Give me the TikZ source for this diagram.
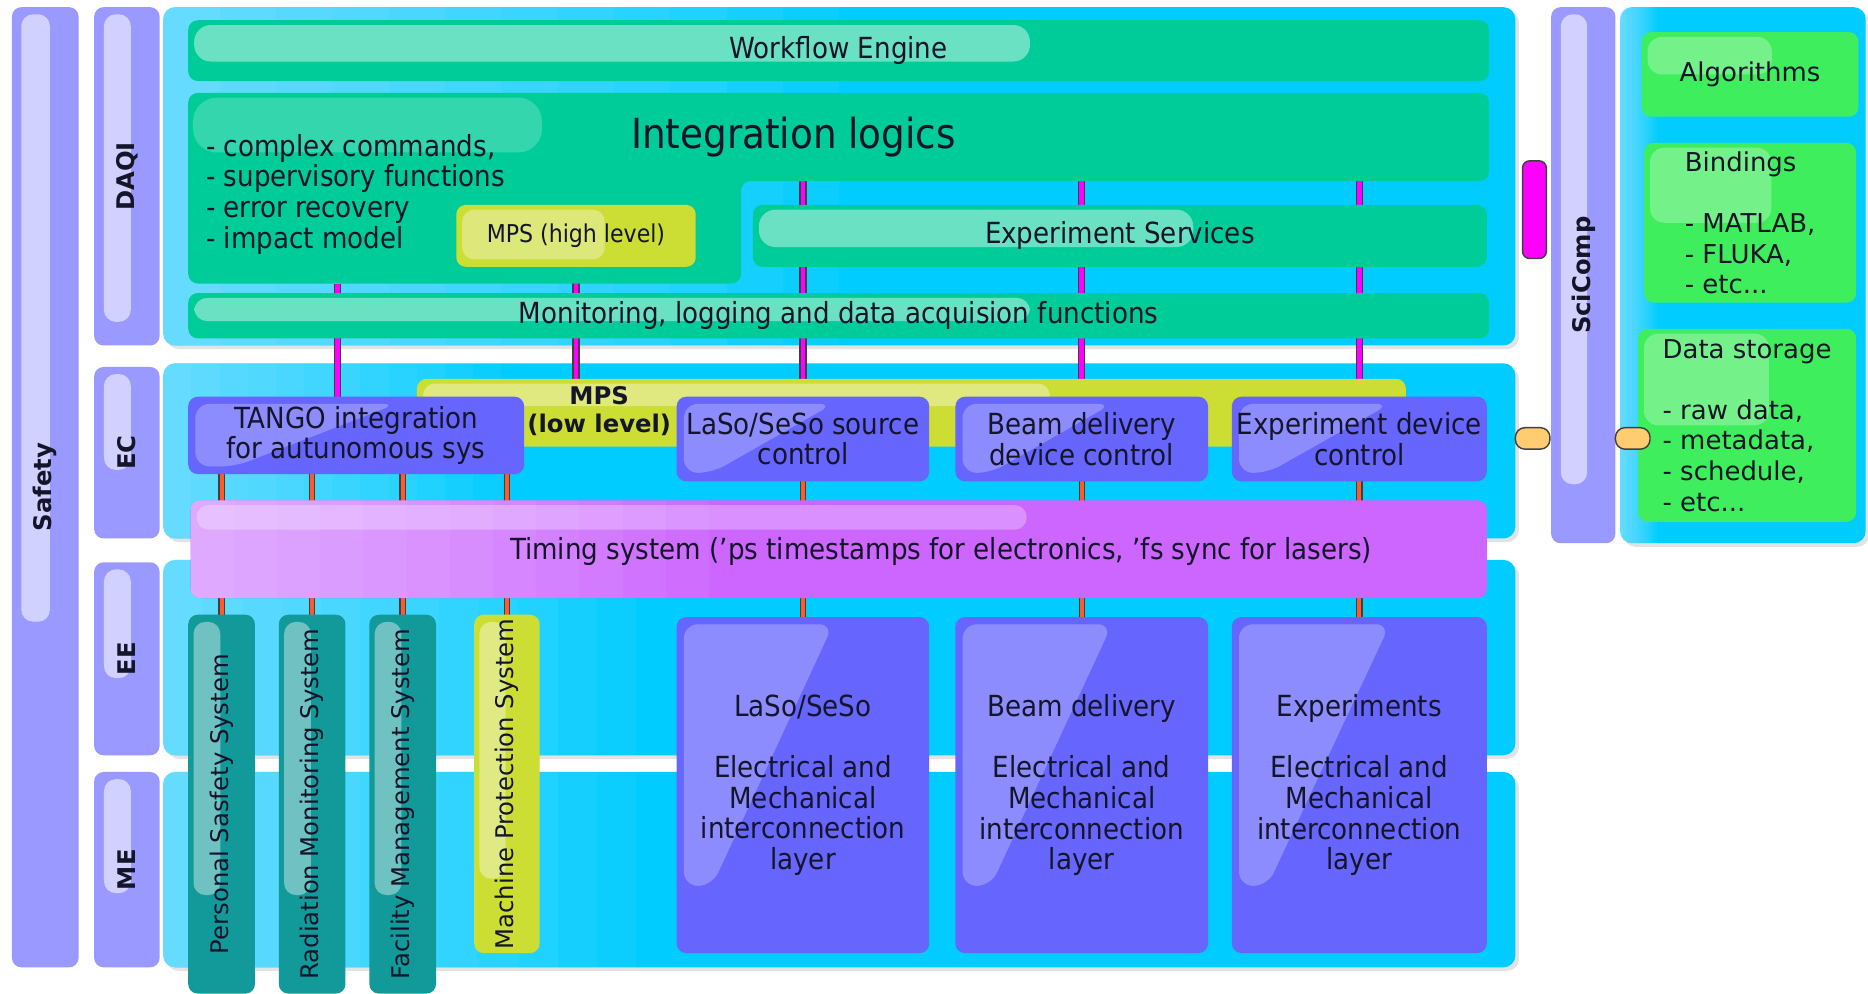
\documentclass[tikz,border=0pt]{standalone}
\usepackage{fontspec}
\setmainfont{DejaVu Sans Condensed}
\newfontfamily\widefont{DejaVu Sans}
\usetikzlibrary{calc,shadows}

\definecolor{panelcyan}{HTML}{00CCFF}
\definecolor{daqigreen}{HTML}{00CC99}
\definecolor{lavender}{HTML}{9999FF}
\definecolor{ctrlblue}{HTML}{6666FF}
\definecolor{timingpurple}{HTML}{CC66FF}
\definecolor{mpsyellow}{HTML}{CCDD33}
\definecolor{safetyteal}{HTML}{129A9A}
\definecolor{scigreen}{HTML}{3FEE5C}
\definecolor{magline}{HTML}{FF00FF}
\definecolor{redline}{HTML}{FF5A2A}
\definecolor{peach}{HTML}{FFCC70}
\definecolor{ink}{HTML}{15152A}

\pgfdeclarelayer{panels}
\pgfdeclarelayer{links}
\pgfsetlayers{panels,links,main}

% box given by its corners: name, x0, y0, x1, y1, style, text
\newcommand\plate[7]{%
  \node[#6, minimum width={(#4-#2)*0.5pt}, minimum height={(#5-#3)*0.5pt}]
    (#1) at ({(#2+#4)/2},{(#3+#5)/2}) {#7};}

\tikzset{
  every node/.style={inner sep=0pt, outer sep=0pt, text=ink},
  blk/.style={rectangle, rounded corners=4pt},
  cond/.style={font=\fontsize{12.2}{12.85}\selectfont, align=center},
  wide/.style={font=\widefont\fontsize{10.9}{12.85}\selectfont, align=left},
  tagfont/.style={font=\widefont\bfseries\fontsize{10.2}{12}\selectfont},
  vfont/.style={font=\widefont\fontsize{10.2}{12}\selectfont},
  % pale pill in the upper left of a bar
  hgloss/.style n args={4}{path picture={
    \fill[white, fill opacity=#1, rounded corners=#4]
      let \p1=(path picture bounding box.north west),
          \p2=(path picture bounding box.south east) in
      (\x1+2.5pt,\y1-2pt) rectangle ({\x1+#2*(\x2-\x1)},{\y1-#3*(\y1-\y2)});}},
  % pale upright strip in a column
  vgloss/.style n args={4}{path picture={
    \fill[white, fill opacity=#4, rounded corners=5pt]
      let \p1=(path picture bounding box.north west),
          \p2=(path picture bounding box.south east) in
      ({\x1+#1*(\x2-\x1)},\y1-3pt) rectangle ({\x1+#2*(\x2-\x1)},{\y1-#3*(\y1-\y2)});}},
  % slanted sheen on the blue blocks
  sgloss/.style={path picture={
    \fill[white, fill opacity=.25, rounded corners=6pt]
      let \p1=(path picture bounding box.north west),
          \p2=(path picture bounding box.south east) in
      (\x1+3pt,\y1-3pt) -- ({\x1+0.62*(\x2-\x1)},\y1-3pt)
      -- ({\x1+0.14*(\x2-\x1)},{\y1-#1*(\y1-\y2)})
      -- (\x1+3pt,{\y1-#1*(\y1-\y2)}) -- cycle;}},
  % light fading in from the left, built from stacked strips
  leftglow/.style n args={3}{path picture={
    \foreach \k in {1,...,12}{
      \fill[white, fill opacity=#2, sharp corners]
        let \p1=(path picture bounding box.north west),
            \p2=(path picture bounding box.south east) in
        (\x1,\y1) rectangle ({\x1+#1*\k/12*(\x2-\x1)},\y2);}
    #3}},
  panel/.style={blk, fill=panelcyan, rounded corners=5pt,
    drop shadow={shadow xshift=1.5pt, shadow yshift=-1.5pt, opacity=.22},
    leftglow={#1}{.045}{}},
  lavbar/.style={blk, fill=lavender, tagfont},
  greenbar/.style={blk, fill=daqigreen, cond},
  ctrl/.style={blk, fill=ctrlblue, cond},
  yellowbox/.style={blk, fill=mpsyellow},
  tealbar/.style={blk, fill=safetyteal, vfont, vgloss={.08}{.48}{.74}{.4}},
  scibox/.style={blk, fill=scigreen, wide, hgloss={.28}{.6}{.5}{6pt}},
  timingbar/.style={blk, fill=timingpurple, leftglow={.4}{.05}{
    \fill[white, fill opacity=.28, rounded corners=5pt]
      let \p1=(path picture bounding box.north west),
          \p2=(path picture bounding box.south east) in
      (\x1+2.5pt,\y1-2pt) rectangle ({\x1+0.645*(\x2-\x1)},{\y1-0.3*(\y1-\y2)});}},
  magconn/.style={draw=black!75, line width=.5pt, double=magline, double distance=2pt},
  redconn/.style={draw=black!75, line width=.5pt, double=redline, double distance=1.7pt},
  plug/.style={blk, draw=black!75, line width=.6pt},
}

\begin{document}
\begin{tikzpicture}[x=0.5pt, y=-0.5pt]
\useasboundingbox (0,0) rectangle (1568,834);
\clip (0,0) rectangle (1568,834);

% cyan layer panels
\begin{pgfonlayer}{panels}
  \fill[white] (0,0) rectangle (1568,834);
  \plate{daqi}{137}{6}{1272}{290}{panel=.5}{}
  \plate{ec}{137}{305}{1272}{452}{panel=.25}{}
  \plate{ee}{137}{470}{1272}{634}{panel=.35}{}
  \plate{me}{137}{648}{1272}{812}{panel=.35}{}
  \plate{sciright}{1360}{6}{1566}{456}{panel=.15}{}
\end{pgfonlayer}

% side tags
\plate{safety}{10}{6}{66}{812}{lavbar, vgloss={.14}{.57}{.64}{.55}}{\rotatebox{90}{Safety}}
\plate{daqitag}{79}{6}{134}{290}{lavbar, vgloss={.15}{.56}{.93}{.55}}{\rotatebox{90}{DAQI}}
\plate{ectag}{79}{308}{134}{452}{lavbar, vgloss={.15}{.56}{.6}{.55}}{\rotatebox{90}{EC}}
\plate{eetag}{79}{472}{134}{634}{lavbar, vgloss={.15}{.56}{.6}{.55}}{\rotatebox{90}{EE}}
\plate{metag}{79}{648}{134}{812}{lavbar, vgloss={.15}{.56}{.62}{.55}}{\rotatebox{90}{ME}}
\plate{scitag}{1302}{6}{1356}{456}{lavbar, vgloss={.15}{.56}{.89}{.55}}{\rotatebox{90}{SciComp}}

% DAQI layer
\plate{workflow}{158}{17}{1250}{68}{greenbar, hgloss={.42}{.647}{.68}{7pt}}{Workflow Engine}
\fill[daqigreen, rounded corners=4pt]
  (158,78) -- (1250,78) -- (1250,152) -- (622,152) -- (622,238) -- (158,238) -- cycle;
\fill[white, fill opacity=.2, rounded corners=10pt] (162,82) rectangle (455,128);
\coordinate (ilfoot) at (390,238);
\coordinate (ilbase) at (900,152);
\node[font=\fontsize{17.4}{20}\selectfont] (iltitle) at (666,115) {Integration logics};
\node[cond, align=left, anchor=west] (illist) at (173,163)
  {- complex commands,\\- supervisory functions\\- error recovery\\- impact model};
\plate{mpshigh}{383}{172}{584}{224}{yellowbox, hgloss={.35}{.62}{.88}{5pt},
  font=\fontsize{10.3}{12}\selectfont}{MPS (high level)}
\plate{expserv}{632}{172}{1248}{224}{greenbar, hgloss={.42}{.6}{.68}{7pt}}{Experiment Services}
\plate{monitor}{158}{246}{1250}{284}{greenbar, hgloss={.42}{.647}{.62}{5.5pt}}%
  {Monitoring, logging and data acquision functions}

% EC layer
\plate{mpslow}{350}{318}{1180}{375}{yellowbox, hgloss={.38}{.64}{.4}{5pt}}{}
\node[tagfont, align=center] (mpslowtxt) at (503,345) {MPS\\(low level)};
\plate{tango}{158}{333}{440}{398}{ctrl, sgloss=.9}{TANGO integration\\for autunomous sys}
\plate{lasoctl}{568}{333}{780}{404}{ctrl, sgloss=.9}{LaSo/SeSo source\\control}
\plate{beamctl}{802}{333}{1014}{404}{ctrl, sgloss=.9}{Beam delivery\\device control}
\plate{expctl}{1034}{333}{1248}{404}{ctrl, sgloss=.9}{Experiment device\\control}
\plate{timing}{160}{420}{1248}{502}{timingbar}{}
\node[cond] (timingtxt) at (790,463)
  {Timing system ('ps timestamps for electronics, 'fs sync for lasers)};

% EE / ME layers
\plate{pss}{158}{516}{214}{834}{tealbar}{\rotatebox{90}{Personal Sasfety System}}
\plate{rms}{234}{516}{290}{834}{tealbar}{\rotatebox{90}{Radiation Monitoring System}}
\plate{fms}{310}{516}{366}{834}{tealbar}{\rotatebox{90}{Facility Management System}}
\plate{mpsbox}{398}{516}{453}{800}{yellowbox, vfont, vgloss={.08}{.48}{.78}{.4}}%
  {\rotatebox{90}{Machine Protection System}}
\plate{lasobig}{568}{518}{780}{800}{ctrl, sgloss=.8}%
  {LaSo/SeSo\\[12.85pt]Electrical and\\Mechanical\\interconnection\\layer}
\plate{beambig}{802}{518}{1014}{800}{ctrl, sgloss=.8}%
  {Beam delivery\\[12.85pt]Electrical and\\Mechanical\\interconnection\\layer}
\plate{expbig}{1034}{518}{1248}{800}{ctrl, sgloss=.8}%
  {Experiments\\[12.85pt]Electrical and\\Mechanical\\interconnection\\layer}

% scientific computing column
\plate{algo}{1378}{27}{1560}{98}{scibox}{Algorithms}
\plate{bind}{1380}{120}{1558}{254}{scibox}{Bindings\\[12.85pt]- MATLAB,\\- FLUKA,\\- etc...}
\plate{store}{1375}{276}{1558}{438}{scibox}%
  {Data storage\\[12.85pt]- raw data,\\- metadata,\\- schedule,\\- etc...}
\plate{magbar}{1278}{135}{1298}{217}{plug, rounded corners=3pt, fill=magline}{}
\plate{peachl}{1272}{359}{1301}{377}{plug, fill=peach}{}
\plate{peachr}{1356}{359}{1385}{377}{plug, fill=peach}{}

% links between the layers
\coordinate (tangolink) at (283,333);
\begin{pgfonlayer}{links}
  \draw[magconn] (ilfoot -| tangolink) -- (tango.north -| tangolink);
  \draw[magconn] (mpshigh.south) -- (mpshigh.south |- mpslow.north);
  \draw[magconn] (lasoctl.north |- ilbase) -- (lasoctl.north);
  \draw[magconn] (beamctl.north |- ilbase) -- (beamctl.north);
  \draw[magconn] (expctl.north |- ilbase) -- (expctl.north);
  \draw[redconn] (tango.south -| pss.north) -- (pss.north);
  \draw[redconn] (tango.south -| rms.north) -- (rms.north);
  \draw[redconn] (tango.south -| fms.north) -- (fms.north);
  \draw[redconn] (tango.south -| mpsbox.north) -- (mpsbox.north);
  \draw[redconn] (lasoctl.south) -- (lasobig.north);
  \draw[redconn] (beamctl.south) -- (beambig.north);
  \draw[redconn] (expctl.south) -- (expbig.north);
\end{pgfonlayer}
\end{tikzpicture}
\end{document}
